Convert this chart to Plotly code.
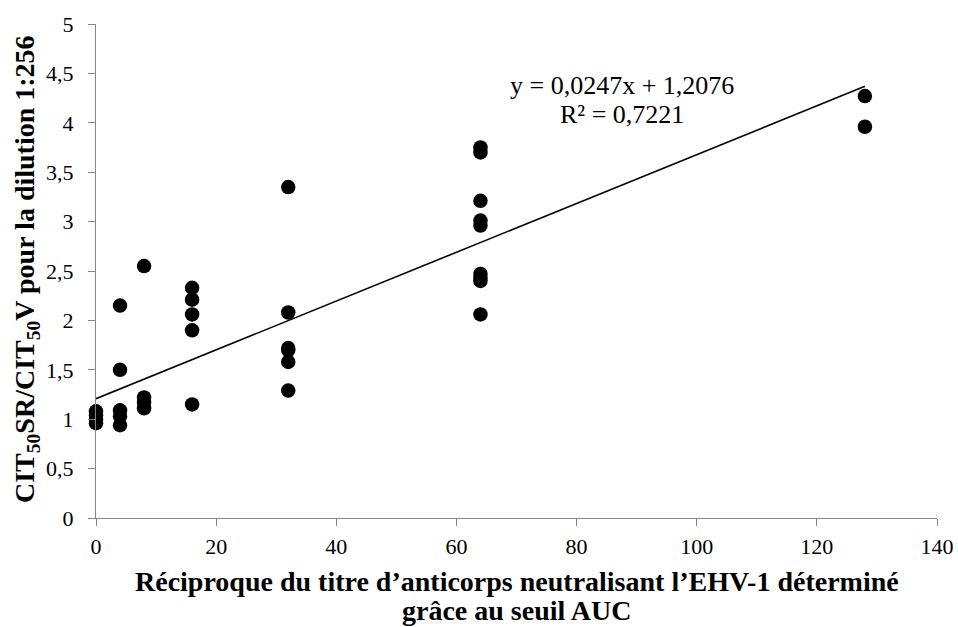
import plotly.graph_objects as go

# Reciprocal neutralising antibody titre (x) and CIT50SR/CIT50V ratio (y)
titre = [0, 0, 0, 0,
         4, 4, 4, 4, 4,
         8, 8, 8, 8,
         16, 16, 16, 16, 16,
         32, 32, 32, 32, 32, 32,
         64, 64, 64, 64, 64, 64, 64, 64, 64,
         128, 128]
ratio = [1.08, 1.04, 1.00, 0.96,
         2.15, 1.50, 1.09, 1.03, 0.94,
         2.55, 1.22, 1.17, 1.11,
         2.33, 2.21, 2.06, 1.90, 1.15,
         3.35, 2.08, 1.72, 1.70, 1.58, 1.29,
         3.75, 3.70, 3.21, 3.01, 2.96, 2.47, 2.43, 2.40, 2.06,
         4.27, 3.96]

# Linear trend: y = slope * x + intercept
slope = 0.0247
intercept = 1.2076
r2 = 0.7221
trend_x = [0, 128]
trend_y = [slope * v + intercept for v in trend_x]

x_ticks = [0, 20, 40, 60, 80, 100, 120, 140]
y_ticks = [0, 0.5, 1, 1.5, 2, 2.5, 3, 3.5, 4, 4.5, 5]

serif = "Liberation Serif, Times New Roman, serif"


def fr(v, nd=4):
    return f"{v:.{nd}f}".replace(".", ",")


fig = go.Figure()
fig.add_trace(go.Scatter(
    x=titre, y=ratio, mode="markers",
    marker=dict(color="black", size=14.5, line=dict(width=0)),
    showlegend=False, cliponaxis=False,
))
fig.add_trace(go.Scatter(
    x=trend_x, y=trend_y, mode="lines",
    line=dict(color="black", width=1.6),
    showlegend=False,
))

# Trend equation and coefficient of determination
fig.add_annotation(
    x=87.6, y=4.38, xref="x", yref="y", yanchor="middle",
    text=f"y = {fr(slope)}x + {fr(intercept)}",
    showarrow=False, font=dict(family=serif, size=26, color="black"),
)
fig.add_annotation(
    x=87.6, y=4.08, xref="x", yref="y", yanchor="middle",
    text=f"R² = {fr(r2)}",
    showarrow=False, font=dict(family=serif, size=26, color="black"),
)

# Axis titles
title_font = dict(family=serif, size=28, color="black")
fig.add_annotation(
    x=0.5, y=0, xref="paper", yref="paper", yanchor="middle",
    yshift=-63, showarrow=False, font=title_font,
    text="<b>Réciproque du titre d’anticorps neutralisant l’EHV-1 déterminé</b>",
)
fig.add_annotation(
    x=0.5, y=0, xref="paper", yref="paper", yanchor="middle",
    yshift=-92, showarrow=False, font=title_font,
    text="<b>grâce au seuil AUC</b>",
)
fig.add_annotation(
    x=0, y=0.504, xref="paper", yref="paper", xanchor="center",
    xshift=-70, textangle=-90, showarrow=False, font=title_font,
    text="<b>CIT<sub>50</sub>SR/CIT<sub>50</sub>V pour la dilution 1:256</b>",
)

axis_common = dict(
    showgrid=False, zeroline=False, showline=True, automargin=False,
    linecolor="#868686", linewidth=1.3,
    ticks="outside", tickcolor="#868686", ticklen=7, tickwidth=1.3,
    tickfont=dict(family=serif, size=22, color="black"),
)

fig.update_layout(
    width=958, height=627,
    margin=dict(l=96, r=21, t=24, b=109),
    paper_bgcolor="white", plot_bgcolor="white",
    separators=", ",
    xaxis=dict(range=[0, 140], tickvals=x_ticks, ticklabelstandoff=1,
               **axis_common),
    yaxis=dict(range=[0, 5], tickvals=y_ticks, ticklabelstandoff=10,
               **axis_common),
)

fig.write_html("out.html")
